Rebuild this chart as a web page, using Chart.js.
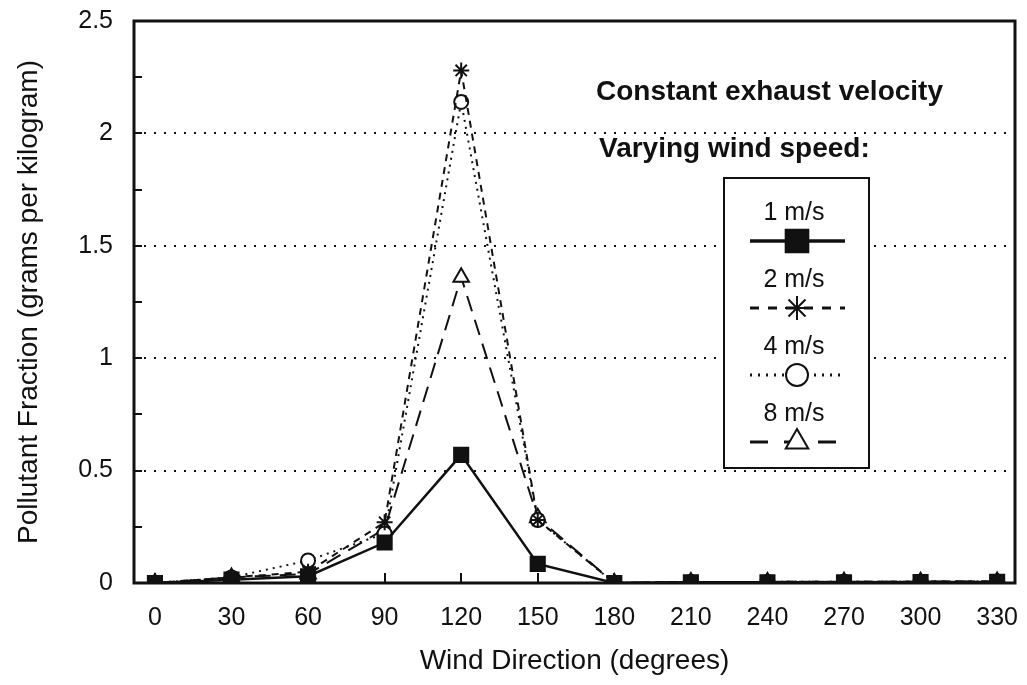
<!DOCTYPE html>
<html>
<head>
<meta charset="utf-8">
<script src="https://cdn.jsdelivr.net/npm/chart.js@4.4.1/dist/chart.umd.min.js"></script>
<style>
  html, body { margin: 0; padding: 0; background: #fff; }
  #wrap { width: 1027px; height: 685px; position: relative; }
</style>
</head>
<body>
<div id="wrap"><canvas id="windChart"></canvas></div>
<script>
// Wind direction (degrees)
const directions = [0, 30, 60, 90, 120, 150, 180, 210, 240, 270, 300, 330];

// Pollutant fraction (g/kg) for each wind speed
const speed1 = [0, 0.015, 0.03, 0.18, 0.57, 0.085, 0, 0.003, 0.003, 0.003, 0.004, 0.005];
const speed2 = [0, 0.025, 0.05, 0.27, 2.28, 0.28, 0, 0.005, 0.005, 0.006, 0.006, 0.007];
const speed4 = [0, 0.025, 0.10, 0.22, 2.14, 0.28, 0, 0.005, 0.005, 0.006, 0.006, 0.007];
const speed8 = [0, 0.025, 0.04, 0.24, 1.36, 0.29, 0, 0.005, 0.005, 0.006, 0.006, 0.007];

const seriesLabels = ["1 m/s", "2 m/s", "4 m/s", "8 m/s"];
const yTicks = [0, 0.5, 1, 1.5, 2, 2.5];
const yMinorStep = 0.25;
const noteLines = ["Constant exhaust velocity", "Varying wind speed:"];

const FONT = "'Liberation Sans', Arial, Helvetica, sans-serif";
const INK = "#111";

const toPoints = (vals) => vals.map((v, i) => ({ x: directions[i], y: v }));

// line + marker look per series
const looks = [
  { dash: [], width: 2.5, point: "rect", radius: 10, fill: INK },
  { dash: [7, 6], width: 2, point: "star", radius: 8, fill: INK },
  { dash: [2, 5], width: 2, point: "circle", radius: 7, fill: "#fff" },
  { dash: [16, 9], width: 2, point: "triangle", radius: 9, fill: "#fff" },
];

const datasets = [speed1, speed2, speed4, speed8].map((vals, i) => ({
  label: seriesLabels[i],
  data: toPoints(vals),
  borderColor: INK,
  borderWidth: looks[i].width,
  borderDash: looks[i].dash,
  pointStyle: looks[i].point,
  pointRadius: looks[i].radius,
  pointBackgroundColor: looks[i].fill,
  pointBorderColor: INK,
  pointBorderWidth: 2,
  tension: 0,
  fill: false,
}));

// frame, inward ticks, note text and the boxed legend
const decorPlugin = {
  id: "decor",
  afterDraw(chart) {
    const { ctx, chartArea: a, scales } = chart;
    const x = scales.x, y = scales.y;
    ctx.save();
    ctx.strokeStyle = INK;
    ctx.setLineDash([]);

    // inner ticks on the y axis
    ctx.lineWidth = 2;
    for (let v = yMinorStep; v < 2.5; v += yMinorStep) {
      const py = Math.round(y.getPixelForValue(v));
      ctx.beginPath();
      ctx.moveTo(a.left, py);
      ctx.lineTo(a.left + 8, py);
      ctx.stroke();
    }
    // inner ticks on the x axis
    directions.forEach((d) => {
      const px = Math.round(x.getPixelForValue(d));
      ctx.beginPath();
      ctx.moveTo(px, a.bottom);
      ctx.lineTo(px, a.bottom - 10);
      ctx.stroke();
    });

    // frame
    ctx.lineWidth = 3;
    ctx.strokeRect(a.left, a.top, a.right - a.left, a.bottom - a.top);

    // notes
    ctx.fillStyle = INK;
    ctx.font = "bold 28px " + FONT;
    ctx.textAlign = "left";
    ctx.textBaseline = "alphabetic";
    ctx.fillText(noteLines[0], 596, 100);
    ctx.fillText(noteLines[1], 599, 157);

    // legend box
    const box = { l: 724, t: 178, r: 869, b: 468 };
    ctx.fillStyle = "#fff";
    ctx.fillRect(box.l, box.t, box.r - box.l, box.b - box.t);
    ctx.lineWidth = 2;
    ctx.strokeRect(box.l, box.t, box.r - box.l, box.b - box.t);

    const cx = 797;
    chart.data.datasets.forEach((ds, i) => {
      const ty = 213 + i * 67;
      const ly = 241 + i * 67;
      ctx.fillStyle = INK;
      ctx.font = "25px " + FONT;
      ctx.textAlign = "center";
      ctx.textBaseline = "middle";
      ctx.fillText(ds.label, cx - 3, ty);

      ctx.lineWidth = i === 0 ? 3.5 : 3;
      ctx.setLineDash(i === 1 ? [9, 9] : i === 2 ? [2, 6] : i === 3 ? [18, 16] : []);
      ctx.beginPath();
      ctx.moveTo(750, ly);
      ctx.lineTo(845, ly);
      ctx.stroke();
      ctx.setLineDash([]);

      ctx.fillStyle = ds.pointBackgroundColor;
      ctx.strokeStyle = INK;
      ctx.lineWidth = 2;
      Chart.helpers.drawPoint(ctx, {
        pointStyle: ds.pointStyle,
        radius: ds.pointStyle === "rect" ? 16 : ds.pointRadius + 4,
        rotation: 0,
        borderWidth: 2,
      }, cx, ly);
    });
    ctx.restore();
  },
};

const tickFont = { family: FONT, size: 25 };
const titleFont = { family: FONT, size: 28 };

new Chart(document.getElementById("windChart").getContext("2d"), {
  type: "line",
  data: { datasets: datasets },
  options: {
    responsive: true,
    maintainAspectRatio: false,
    animation: false,
    layout: { padding: { top: 21, right: 7, left: 0, bottom: 0 } },
    plugins: {
      legend: { display: false },
      tooltip: { enabled: false },
    },
    scales: {
      x: {
        type: "linear",
        min: -8.2,
        max: 337,
        afterBuildTicks: (s) => { s.ticks = directions.map((v) => ({ value: v })); },
        afterFit: (s) => {
          s.height = 102;
          s.paddingLeft = 0;
          s.paddingRight = 0;
        },
        grid: { display: false },
        border: { display: false },
        ticks: { color: INK, font: tickFont, padding: 12, maxRotation: 0, autoSkip: false },
        title: {
          display: true,
          text: "Wind Direction (degrees)",
          color: INK,
          font: titleFont,
          padding: { top: 0, bottom: 7 },
        },
      },
      y: {
        min: 0,
        max: 2.5,
        afterBuildTicks: (s) => { s.ticks = yTicks.map((v) => ({ value: v })); },
        afterFit: (s) => {
          s.width = 134;
          s.paddingTop = 0;
          s.paddingBottom = 0;
        },
        grid: {
          color: (c) => (c.tick && c.tick.value > 0 && c.tick.value < 2.5 ? INK : "rgba(0,0,0,0)"),
          lineWidth: 2,
          drawTicks: false,
        },
        border: { display: false, dash: [2, 8] },
        ticks: { color: INK, font: tickFont, padding: 21, callback: (v) => String(v) },
        title: {
          display: true,
          text: "Pollutant Fraction (grams per kilogram)",
          color: INK,
          font: titleFont,
          padding: { top: 12, bottom: 0 },
        },
      },
    },
  },
  plugins: [decorPlugin],
});
</script>
</body>
</html>
